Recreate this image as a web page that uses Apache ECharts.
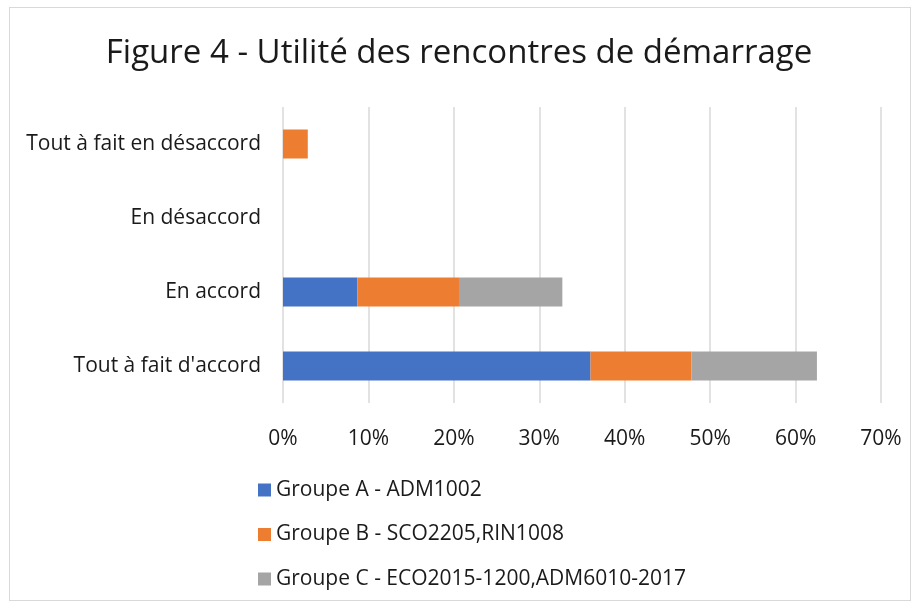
<!DOCTYPE html>
<html>
<head>
<meta charset="utf-8">
<script src="https://cdn.jsdelivr.net/npm/echarts@6/dist/echarts.min.js"></script>
<style>
html,body{margin:0;padding:0;background:#fff;}
#frame{position:absolute;left:9px;top:7px;width:902px;height:594px;border:1px solid #d9d9d9;box-sizing:border-box;}
#chart{position:absolute;left:0;top:0;width:918px;height:608px;}
</style>
</head>
<body>
<div id="frame"></div>
<div id="chart"></div>
<script>
const titleText = "Figure 4 - Utilité des rencontres de démarrage";
const categories = ["Tout à fait en désaccord", "En désaccord", "En accord", "Tout à fait d'accord"];
const seriesNames = ["Groupe A - ADM1002", "Groupe B - SCO2205,RIN1008", "Groupe C - ECO2015-1200,ADM6010-2017"];
const groupA = [0, 0, 8.7, 36.0];
const groupB = [2.9, 0, 11.9, 11.8];
const groupC = [0, 0, 12.1, 14.7];
const colors = ["#4472c4", "#ed7d31", "#a5a5a5"];

const font = "'Open Sans'";
const chart = echarts.init(document.getElementById('chart'), null, {renderer: 'canvas'});
const values = [groupA, groupB, groupC];
chart.setOption({
  animation: false,
  backgroundColor: 'transparent',
  title: {
    text: titleText, left: 'center', top: 32,
    textStyle: {fontFamily: font, fontSize: 33, fontWeight: 'normal', color: '#1a1a1a'}
  },
  grid: {left: 283, right: 37, top: 107, bottom: 205, containLabel: false},
  xAxis: {
    type: 'value', min: 0, max: 70, interval: 10,
    axisLine: {show: false}, axisTick: {show: false},
    splitLine: {lineStyle: {color: '#d9d9d9', width: 1.5}},
    axisLabel: {formatter: '{value}%', margin: 26, fontFamily: font, fontSize: 21, color: '#1a1a1a'}
  },
  yAxis: {
    type: 'category', data: categories, inverse: true,
    axisLine: {show: false}, axisTick: {show: false},
    axisLabel: {margin: 22, fontFamily: font, fontSize: 21, color: '#1a1a1a'}
  },
  legend: {
    orient: 'vertical', left: 258, top: 479, padding: 0, itemGap: 22.5,
    itemWidth: 13, itemHeight: 13, icon: 'rect', itemStyle: {borderWidth: 0},
    textStyle: {fontFamily: font, fontSize: 21, color: '#1a1a1a', lineHeight: 22},
    data: seriesNames
  },
  series: seriesNames.map((n, i) => ({
    name: n, type: 'bar', stack: 'total', data: values[i],
    barWidth: 29, itemStyle: {color: colors[i]}
  }))
});
</script>
</body>
</html>
